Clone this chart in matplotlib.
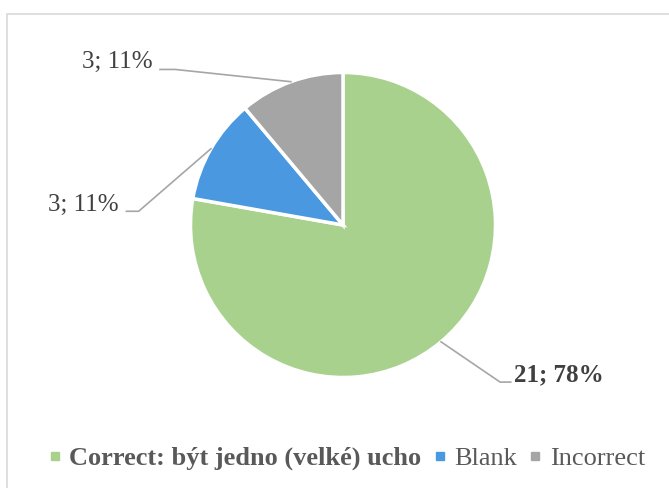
import numpy as np
import matplotlib
matplotlib.use("Agg")
import matplotlib.pyplot as plt
from matplotlib.lines import Line2D
from matplotlib.patches import Rectangle

# data
categories = ["Correct: být jedno (velké) ucho", "Blank", "Incorrect"]
counts = [21, 3, 3]
colors = ["#a9d18e", "#4a99e0", "#a5a5a5"]

plt.rcParams["font.family"] = ["Liberation Serif", "DejaVu Serif"]

W, H = 669, 488
fig = plt.figure(figsize=(W / 100, H / 100), dpi=100)

# chart area border
fig.patches.append(Rectangle((7 / W, -0.05), 1.0, 1 - 14 / H + 0.05,
                             transform=fig.transFigure, fill=False,
                             edgecolor="#d9d9d9", linewidth=1.2))

# pie axes: centre (343, 225) px, radius 152.5 px
cx, cy, r = 343, 225, 152.5
ax = fig.add_axes([(cx - r) / W, 1 - (cy + r) / H, 2 * r / W, 2 * r / H])

wedges, _ = ax.pie(counts, colors=colors, startangle=90, counterclock=False,
                   radius=1, wedgeprops=dict(edgecolor="white", linewidth=2.5))
ax.set_xlim(-1, 1)
ax.set_ylim(-1, 1)
ax.set_aspect("equal")
ax.axis("off")

total = sum(counts)
line_c = "#a6a6a6"
# (elbow offset, end offset, text pos, ha) in units of radius
layout = [
    ((1.03, -1.03), (1.10, -1.03), (1.12, -0.98), "left"),
    ((-1.34, 0.09), (-1.42, 0.09), (-1.47, 0.13), "right"),
    ((-1.10, 1.02), (-1.20, 1.02), (-1.25, 1.07), "right"),
]
for w, n, (elb, end, tpos, ha) in zip(wedges, counts, layout):
    ang = np.deg2rad((w.theta1 + w.theta2) / 2)
    x0, y0 = np.cos(ang), np.sin(ang)
    ax.plot([x0, elb[0], end[0]], [y0, elb[1], end[1]], color=line_c,
            linewidth=1.2, clip_on=False)
    pct = round(100 * n / total)
    bold = n == max(counts)
    ax.text(tpos[0], tpos[1], f"{n}; {pct}%", ha=ha, va="center",
            fontsize=18, color="#404040",
            fontweight="bold" if bold else "normal")

handles = [Line2D([], [], marker="s", linestyle="none", markersize=6,
                  markerfacecolor=c, markeredgecolor=c) for c in colors]
leg = fig.legend(handles, categories, loc="center", ncol=3,
                 bbox_to_anchor=(0.518, 0.061), frameon=False,
                 fontsize=19, handlelength=0.5, handletextpad=0.3,
                 columnspacing=0.45, labelcolor="#595959")
leg.get_texts()[0].set_fontweight("bold")

fig.savefig("out.png", dpi=100)
